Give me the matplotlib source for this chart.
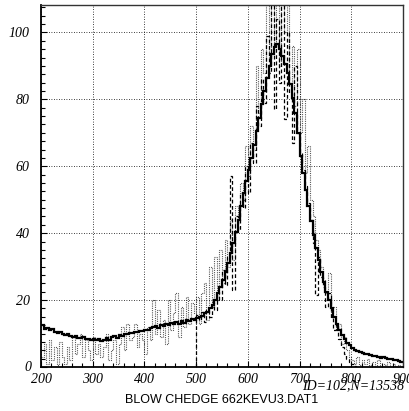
import numpy as np
import matplotlib
matplotlib.use('Agg')
import matplotlib.pyplot as plt
from matplotlib.ticker import MultipleLocator

# histogram contents, 5-unit bins
solid_edges = np.arange(200, 905, 5)
solid_counts = [
    12.5, 11.5, 11.8, 11.0, 11.3, 10.6, 10.2, 10.5, 9.8, 9.6,
    9.9, 9.3, 9.0, 9.4, 8.8, 8.6, 8.9, 8.3, 8.5, 8.1,
    8.4, 8.0, 8.3, 7.9, 8.2, 8.6, 8.1, 8.9, 9.2, 8.8,
    9.6, 9.3, 10.0, 9.8, 10.3, 10.1, 10.6, 10.4, 10.9, 10.7,
    11.2, 11.0, 11.6, 11.9, 12.4, 11.8, 12.6, 12.3, 13.0, 12.6,
    13.1, 12.8, 13.4, 13.0, 13.6, 13.3, 13.9, 13.6, 14.2, 14.0,
    14.5, 15.0, 15.3, 16.0, 16.5, 17.5, 18.5, 20.0, 22.0, 24.0,
    26.0, 28.5, 31.0, 34.0, 37.0, 40.5, 44.0, 48.0, 52.0, 55.5,
    59.0, 62.5, 66.5, 70.5, 74.5, 78.5, 82.5, 86.5, 90.0, 93.5,
    95.5, 96.5, 95.0, 93.0, 90.5, 88.0, 84.5, 80.5, 76.0, 70.0,
    63.0, 58.0, 53.0, 48.0, 43.5, 39.5, 35.5, 32.0, 28.5, 25.5,
    22.5, 20.0, 17.5, 15.0, 13.0, 11.0, 9.5, 8.3, 7.3, 6.5,
    5.7, 5.2, 4.9, 4.5, 4.2, 4.0, 3.8, 3.5, 3.4, 3.2,
    3.0, 2.8, 2.9, 2.6, 2.5, 2.4, 2.2, 2.0, 1.9, 1.6,
]

dashed_edges = np.arange(500, 825, 5)
dashed_counts = [
    15.5, 14.0, 16.5, 13.5, 17.0, 15.0, 19.5, 17.0, 22.5, 20.0,
    29.0, 24.5, 33.0, 57.0, 23.0, 45.0, 41.0, 52.0, 47.5, 60.0,
    52.0, 67.0, 61.0, 78.0, 72.0, 86.0, 79.0, 99.0, 88.0, 115,
    77.0, 104.0, 85.0, 115, 74.0, 100.0, 82.0, 67.0, 90.0, 70.0,
    64.0, 59.0, 54.0, 49.0, 44.0, 37.0, 21.5, 33.0, 27.0, 24.0,
    18.0, 22.0, 14.5, 11.0, 13.0, 8.5, 6.0, 4.0, 2.5, 1.5,
    0.8, 0.3, 0.0, 0.0,
]

dotted_edges = np.arange(200, 905, 5)
dotted_counts = [
    3, 7, 1, 8, 2, 6, 0.5, 7.5, 3, 1,
    6, 2, 9, 4, 7, 10, 3, 8, 5, 2,
    9, 4, 7, 3, 6, 10, 2, 5, 8, 1,
    7, 12, 5, 13, 8, 9, 13, 6, 10, 8,
    4, 12, 8, 20, 10, 17, 9, 14, 7, 20,
    11, 16, 22, 9, 18, 12, 21, 13, 19, 16,
    21, 13, 22, 25, 14, 30, 18, 33, 20, 35,
    25, 38, 30, 44, 32, 48, 45, 55, 50, 66,
    57, 72, 65, 90, 76, 95, 88, 115, 92, 115,
    96, 115, 90, 115, 100, 115, 85, 96, 78, 95,
    70, 80, 58, 66, 50, 45, 38, 35, 30, 26,
    22, 28, 15, 18, 11, 13, 7, 9, 5, 3,
    2, 1, 3, 0.5, 2, 1, 2.5, 0.5, 1.5, 0,
    2, 0, 1, 0.5, 1.5, 0, 1, 0, 0.5, 0,
]

x_ticks = [200, 300, 400, 500, 600, 700, 800, 900]
y_ticks = [0, 20, 40, 60, 80, 100]

fig = plt.figure(figsize=(4.09, 4.11), dpi=100)
ax = fig.add_axes([41 / 409, 1 - 367 / 411, 362 / 409, 362 / 411])

ax.stairs(dotted_counts, dotted_edges, color='0.35', lw=0.8, ls=(0, (1, 1)), baseline=None)
ax.stairs(dashed_counts, dashed_edges, color='black', lw=0.9, ls=(0, (3, 2)))
ax.stairs(solid_counts, solid_edges, color='black', lw=1.6, baseline=None)

ax.set_xlim(200, 900)
ax.set_ylim(0, 108.2)
ax.set_xticks(x_ticks)
ax.set_yticks(y_ticks)
ax.xaxis.set_minor_locator(MultipleLocator(20))
ax.yaxis.set_minor_locator(MultipleLocator(2.5))
ax.grid(True, which='major', color='black', ls=(0, (1, 2)), lw=0.6)
ax.tick_params(which='both', direction='in', top=False, right=False, width=0.8)
ax.tick_params(which='major', length=4)
ax.tick_params(which='minor', length=3)
ax.tick_params(axis='x', pad=4)
ax.tick_params(axis='y', pad=8)

serif = {'family': 'Liberation Serif', 'style': 'italic', 'size': 10}
ax.set_xticklabels([str(v) for v in x_ticks], fontdict=serif)
ax.set_yticklabels(['' if v == 0 else str(v) for v in y_ticks], fontdict=serif)
fig.text(28 / 409, 1 - 367 / 411, '0', ha='center', va='center', **serif)

for s in ['left', 'bottom']:
    ax.spines[s].set_linewidth(1.3)
for s in ['top', 'right']:
    ax.spines[s].set_linewidth(1.0)
    ax.spines[s].set_color('0.2')

fig.text(404 / 409, 1 - 386 / 411, 'ID=102,N=13538', ha='right', va='center', **serif)
fig.text(222 / 409, 1 - 400 / 411, 'BLOW CHEDGE 662KEVU3.DAT1', ha='center', va='center',
         family='Liberation Sans', size=9)

fig.savefig('out.png', dpi=100)
